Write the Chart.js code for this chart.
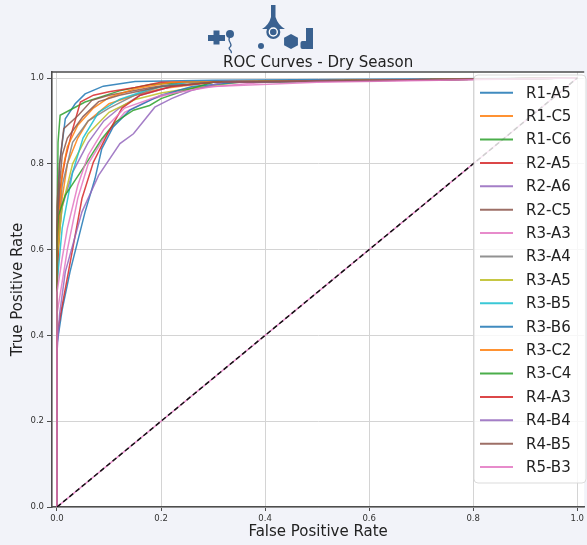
<!DOCTYPE html>
<html>
<head>
<meta charset="utf-8">
<script src="https://cdn.jsdelivr.net/npm/chart.js@4.4.1/dist/chart.umd.min.js"></script>
<style>
  html, body { margin: 0; padding: 0; background: #f2f3f9; }
  #wrap { width: 587px; height: 545px; }
</style>
</head>
<body>
<div id="wrap"><canvas id="roc" width="587" height="545"></canvas></div>
<script>
// ROC curves, one [fpr, tpr] list per site
const seriesNames = ['R1-A5', 'R1-C5', 'R1-C6', 'R2-A5', 'R2-A6', 'R2-C5', 'R3-A3', 'R3-A4', 'R3-A5',
  'R3-B5', 'R3-B6', 'R3-C2', 'R3-C4', 'R4-A3', 'R4-B4', 'R4-B5', 'R5-B3'];

const R1_A5 = [[0, 0], [0, 0.62], [0.005, 0.8], [0.016, 0.905], [0.035, 0.94], [0.054, 0.963], [0.089, 0.981], [0.15, 0.992], [0.3, 0.995], [1, 1]];
const R1_C5 = [[0, 0], [0, 0.55], [0.01, 0.72], [0.02, 0.8], [0.04, 0.86], [0.06, 0.9], [0.1, 0.94], [0.15, 0.96], [0.2, 0.975], [0.3, 0.99], [1, 1]];
const R1_C6 = [[0, 0], [0, 0.6], [0.002, 0.85], [0.006, 0.913], [0.054, 0.944], [0.12, 0.97], [0.18, 0.985], [0.25, 0.99], [1, 1]];
const R2_A5 = [[0, 0], [0, 0.5], [0.006, 0.742], [0.016, 0.812], [0.03, 0.88], [0.045, 0.944], [0.07, 0.96], [0.1, 0.968], [0.15, 0.978], [0.2, 0.99], [1, 1]];
const R2_A6 = [[0, 0], [0, 0.6], [0.01, 0.7], [0.03, 0.78], [0.06, 0.85], [0.09, 0.9], [0.12, 0.93], [0.16, 0.96], [0.22, 0.98], [0.3, 0.99], [1, 1]];
const R2_C5 = [[0, 0], [0, 0.7], [0.005, 0.8], [0.013, 0.882], [0.041, 0.913], [0.067, 0.948], [0.1, 0.96], [0.18, 0.978], [0.25, 0.99], [1, 1]];
const R3_A3 = [[0, 0], [0, 0.45], [0.02, 0.6], [0.04, 0.72], [0.06, 0.8], [0.09, 0.86], [0.13, 0.92], [0.18, 0.95], [0.25, 0.975], [0.4, 0.99], [1, 1]];
const R3_A4 = [[0, 0], [0, 0.6], [0.01, 0.75], [0.03, 0.85], [0.06, 0.9], [0.1, 0.93], [0.15, 0.96], [0.2, 0.98], [0.3, 0.99], [1, 1]];
const R3_A5 = [[0, 0], [0, 0.58], [0.01, 0.7], [0.03, 0.8], [0.06, 0.87], [0.1, 0.92], [0.15, 0.95], [0.2, 0.965], [0.25, 0.975], [0.35, 0.99], [1, 1]];
const R3_B5 = [[0, 0], [0, 0.52], [0.01, 0.65], [0.03, 0.78], [0.05, 0.86], [0.08, 0.92], [0.12, 0.95], [0.18, 0.975], [0.25, 0.99], [1, 1]];
const R3_B6 = [[0, 0], [0, 0.38], [0.01, 0.46], [0.025, 0.548], [0.054, 0.688], [0.073, 0.765], [0.086, 0.835], [0.108, 0.886], [0.14, 0.925], [0.2, 0.96], [0.26, 0.98], [0.35, 0.99], [1, 1]];
const R3_C2 = [[0, 0], [0, 0.6], [0.01, 0.78], [0.02, 0.84], [0.04, 0.89], [0.07, 0.93], [0.1, 0.955], [0.15, 0.975], [0.22, 0.99], [1, 1]];
const R3_C4 = [[0, 0], [0, 0.62], [0.003, 0.68], [0.016, 0.727], [0.054, 0.797], [0.086, 0.858], [0.112, 0.897], [0.147, 0.925], [0.178, 0.936], [0.2, 0.952], [0.245, 0.971], [0.3, 0.99], [1, 1]];
const R4_A3 = [[0, 0], [0, 0.4], [0.01, 0.47], [0.022, 0.548], [0.048, 0.719], [0.07, 0.804], [0.099, 0.874], [0.125, 0.93], [0.16, 0.96], [0.22, 0.98], [0.3, 0.99], [1, 1]];
const R4_B4 = [[0, 0], [0, 0.36], [0.005, 0.45], [0.016, 0.548], [0.048, 0.688], [0.08, 0.773], [0.121, 0.847], [0.147, 0.87], [0.188, 0.932], [0.22, 0.952], [0.258, 0.971], [0.32, 0.99], [1, 1]];
const R4_B5 = [[0, 0], [0, 0.65], [0.005, 0.75], [0.01, 0.82], [0.02, 0.86], [0.05, 0.91], [0.08, 0.945], [0.12, 0.96], [0.2, 0.98], [0.3, 0.99], [1, 1]];
const R5_B3 = [[0, 0], [0, 0.5], [0.01, 0.58], [0.02, 0.65], [0.04, 0.75], [0.06, 0.82], [0.09, 0.88], [0.13, 0.93], [0.2, 0.96], [0.3, 0.98], [0.5, 0.99], [1, 1]];

const curves = [R1_A5, R1_C5, R1_C6, R2_A5, R2_A6, R2_C5, R3_A3, R3_A4, R3_A5,
  R3_B5, R3_B6, R3_C2, R3_C4, R4_A3, R4_B4, R4_B5, R5_B3];

const chanceLine = [[0, 0], [1, 1]];
const tickValues = [0, 0.2, 0.4, 0.6, 0.8, 1.0];

const palette = ['#1f77b4', '#ff7f0e', '#2ca02c', '#d62728', '#9467bd',
  '#8c564b', '#e377c2', '#7f7f7f', '#bcbd22', '#17becf'];

const FONT = '"DejaVu Sans", Verdana, sans-serif';

const withAlpha = (hex, a) => {
  const n = parseInt(hex.slice(1), 16);
  return `rgba(${n >> 16}, ${(n >> 8) & 255}, ${n & 255}, ${a})`;
};

const toPoints = (pairs) => pairs.map(([x, y]) => ({x, y}));

// later series are drawn on top, like matplotlib
const datasets = curves.map((c, i) => ({
  label: seriesNames[i],
  data: toPoints(c),
  borderColor: withAlpha(palette[i % palette.length], 0.85),
  borderWidth: 1.5,
  pointRadius: 0,
  tension: 0,
  fill: false,
  order: 100 - i
}));

datasets.push({
  label: '_chance_pink',
  data: toPoints(chanceLine),
  borderColor: withAlpha(palette[6], 0.85),
  borderWidth: 1.5,
  pointRadius: 0,
  order: 2
});
datasets.push({
  label: '_chance',
  data: toPoints(chanceLine),
  borderColor: '#111',
  borderWidth: 1.5,
  borderDash: [5, 3],
  pointRadius: 0,
  order: 1
});

const decorPlugin = {
  id: 'decor',
  beforeDraw(chart) {
    const {ctx, chartArea: a} = chart;
    ctx.save();
    ctx.fillStyle = '#f2f3f9';
    ctx.fillRect(0, 0, chart.width, chart.height);
    ctx.fillStyle = '#ffffff';
    ctx.fillRect(a.left, a.top, a.right - a.left, a.bottom - a.top);
    ctx.restore();
  },
  afterDraw(chart) {
    const {ctx, chartArea: a} = chart;
    ctx.save();

    // top spine
    ctx.strokeStyle = '#4d4d4d';
    ctx.lineWidth = 1.6;
    ctx.beginPath();
    ctx.moveTo(a.left, a.top);
    ctx.lineTo(a.right, a.top);
    ctx.stroke();

    // title and x label
    ctx.fillStyle = '#222';
    ctx.font = `15px ${FONT}`;
    ctx.textAlign = 'center';
    ctx.textBaseline = 'alphabetic';
    const cx = (a.left + a.right) / 2;
    ctx.fillText('ROC Curves - Dry Season', cx, 67);
    ctx.textBaseline = 'middle';
    ctx.fillText('False Positive Rate', cx, 532);

    // legend
    const items = chart.data.datasets.filter(d => !d.label.startsWith('_'));
    const lx = 474, ly = 75, lw = 112, lh = 408, r = 4;
    ctx.fillStyle = 'rgba(255,255,255,0.8)';
    ctx.strokeStyle = 'rgba(215,215,215,0.9)';
    ctx.lineWidth = 1;
    ctx.beginPath();
    ctx.roundRect(lx, ly, lw, lh, r);
    ctx.fill();
    ctx.stroke();
    ctx.font = `15px ${FONT}`;
    ctx.textAlign = 'left';
    ctx.textBaseline = 'middle';
    items.forEach((d, i) => {
      const y = 92.7 + i * 23.4;
      ctx.strokeStyle = d.borderColor;
      ctx.lineWidth = 2;
      ctx.beginPath();
      ctx.moveTo(480, y);
      ctx.lineTo(513, y);
      ctx.stroke();
      ctx.fillStyle = '#222';
      ctx.fillText(d.label, 526, y + 1);
    });

    // logo above the title
    ctx.fillStyle = '#3a6190';
    ctx.strokeStyle = '#3a6190';
    // plus
    ctx.fillRect(208, 35, 17, 6);
    ctx.fillRect(213.5, 30.5, 6, 14);
    // small circle with squiggle
    ctx.beginPath(); ctx.arc(230, 34, 4, 0, Math.PI * 2); ctx.fill();
    ctx.lineWidth = 1.3;
    ctx.beginPath();
    ctx.moveTo(230, 37);
    ctx.bezierCurveTo(226, 41, 234, 44, 230, 47);
    ctx.bezierCurveTo(227, 49, 233, 51, 231, 53);
    ctx.stroke();
    // dot
    ctx.beginPath(); ctx.arc(261, 46, 3, 0, Math.PI * 2); ctx.fill();
    // flask
    ctx.beginPath();
    ctx.moveTo(271, 5);
    ctx.lineTo(275.5, 5);
    ctx.lineTo(275.5, 17);
    ctx.quadraticCurveTo(278, 25, 285, 29);
    ctx.lineTo(262, 29);
    ctx.quadraticCurveTo(269, 25, 271, 17);
    ctx.closePath();
    ctx.fill();
    ctx.beginPath(); ctx.arc(273.3, 32, 7, 0, Math.PI * 2); ctx.fill();
    ctx.strokeStyle = '#ffffff';
    ctx.lineWidth = 1.4;
    ctx.beginPath(); ctx.arc(273.3, 32, 4, 0, Math.PI * 2); ctx.stroke();
    ctx.fillStyle = '#3a6190';
    ctx.beginPath(); ctx.arc(273.3, 32, 1.6, 0, Math.PI * 2); ctx.fill();
    // hexagon
    ctx.beginPath();
    for (let k = 0; k < 6; k++) {
      const ang = Math.PI / 6 + k * Math.PI / 3;
      const px = 291 + 8 * Math.cos(ang), py = 41.5 + 7.5 * Math.sin(ang);
      if (k === 0) ctx.moveTo(px, py); else ctx.lineTo(px, py);
    }
    ctx.closePath();
    ctx.fill();
    // bar block
    ctx.fillRect(306, 28, 7, 21);
    ctx.beginPath();
    ctx.roundRect(300.5, 41, 7, 8, 2);
    ctx.fill();

    ctx.restore();
  }
};

const fixedTicks = (scale) => {
  scale.ticks = tickValues.map(v => ({value: v}));
};

new Chart(document.getElementById('roc').getContext('2d'), {
  type: 'line',
  data: {datasets},
  options: {
    responsive: false,
    animation: false,
    devicePixelRatio: 1,
    layout: {padding: {top: 72, left: 0, right: 0, bottom: 0}},
    plugins: {
      legend: {display: false},
      title: {display: false},
      tooltip: {enabled: false}
    },
    scales: {
      x: {
        type: 'linear',
        min: -0.0096,
        max: 1.0134,
        afterBuildTicks: fixedTicks,
        afterFit: (s) => { s.height = 38; },
        grid: {color: '#d4d4d4', lineWidth: 1, tickLength: 4, tickColor: '#4d4d4d'},
        border: {color: '#4d4d4d', width: 1.6},
        ticks: {
          font: {family: FONT, size: 8.5},
          color: '#333',
          padding: 3,
          maxRotation: 0,
          callback: (v) => Number(v).toFixed(1)
        }
      },
      y: {
        type: 'linear',
        min: 0,
        max: 1.014,
        afterBuildTicks: fixedTicks,
        afterFit: (s) => { s.width = 52; },
        grid: {color: '#d4d4d4', lineWidth: 1, tickLength: 5, tickColor: '#4d4d4d'},
        border: {color: '#4d4d4d', width: 1.6},
        ticks: {
          font: {family: FONT, size: 8.5},
          color: '#333',
          padding: 3,
          callback: (v) => Number(v).toFixed(1)
        },
        title: {
          display: true,
          text: 'True Positive Rate',
          font: {family: FONT, size: 15},
          color: '#222',
          padding: {top: 9, bottom: 0}
        }
      }
    }
  },
  plugins: [decorPlugin]
});
</script>
</body>
</html>
